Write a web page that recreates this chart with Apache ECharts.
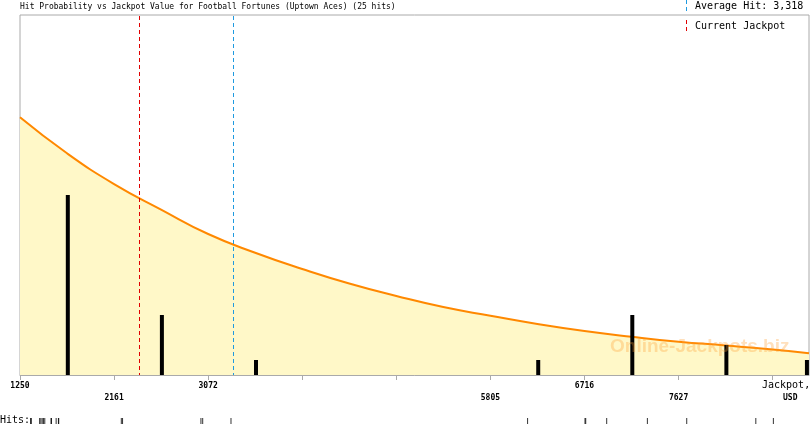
<!DOCTYPE html>
<html>
<head>
<meta charset="utf-8">
<script src="https://cdn.jsdelivr.net/npm/echarts@6/dist/echarts.min.js"></script>
<style>html,body{margin:0;padding:0;background:#fff}#c{width:810px;height:425px}</style>
</head>
<body>
<div id="c"></div>
<script>
// ---- data ----
const titleText = 'Hit Probability vs Jackpot Value for Football Fortunes (Uptown Aces) (25 hits)';
const xTicks = [1250, 2161, 3072, 3983, 4894, 5805, 6716, 7627, 8538];
const xTickLabels = ['1250', '2161', '3072', '', '', '5805', '6716', '7627', ''];
const xTickRows = [1, 2, 1, 0, 0, 2, 1, 2, 0];
const binCenters = [1713, 2624, 3535, 6268, 7179, 8090, 8870];
const hitCounts = [12, 4, 1, 1, 4, 2, 1];
const curveX = [1250, 1705, 2161, 2616, 3072, 3527, 3983, 4438, 4894, 5349, 5805, 6260, 6716, 7171, 7627, 8082, 8538, 8890];
const curveY = [17.18, 14.78, 12.73, 11.03, 9.4, 8.15, 7.07, 6.1, 5.27, 4.53, 3.95, 3.4, 2.93, 2.55, 2.22, 1.97, 1.7, 1.45];
const hitValues = [1352, 1360, 1440, 1452, 1465, 1478, 1490, 1550, 1555, 1600, 1622, 1625,
                   2231, 2243, 3002, 3019, 3293, 6165, 6721, 6728, 6931, 7325, 7706, 8375, 8545];
const currentJackpot = 2408;
const averageHit = 3318;
const averageLabel = 'Average Hit: 3,318';
const currentLabel = 'Current Jackpot';
const xMin = 1250, xMax = 8890, yMax = 24;
const redColor = '#e00000', blueColor = '#1e9ae0';

const chart = echarts.init(document.getElementById('c'), null, {renderer: 'canvas'});
const mono = 'DejaVu Sans Mono';

function vLineSeries(value, color) {
  return {
    type: 'custom', xAxisIndex: 0, yAxisIndex: 0, z: 5, silent: true,
    data: [[value]],
    renderItem: function (params, api) {
      const p0 = api.coord([api.value(0), 0]);
      const p1 = api.coord([api.value(0), yMax]);
      const x = Math.floor(p0[0]) + 0.5;
      return {
        type: 'line',
        shape: {x1: x, y1: p1[1] + 1, x2: x, y2: p0[1]},
        style: {stroke: color, lineWidth: 1, lineDash: [4, 3]}
      };
    }
  };
}

const option = {
  animation: false,
  backgroundColor: '#fff',
  grid: [
    {left: 20, right: 1, top: 15, bottom: 50, show: true, borderColor: '#aaaaaa', borderWidth: 1, backgroundColor: 'transparent'},
    {left: 20, right: 1, top: 417, height: 9}
  ],
  xAxis: [
    {
      type: 'value', gridIndex: 0, min: xMin, max: xMax,
      splitLine: {show: false},
      axisLine: {show: true, lineStyle: {color: '#aaaaaa', width: 1}},
      axisTick: {show: true, customValues: xTicks, length: 5, lineStyle: {color: '#aaaaaa'}},
      axisLabel: {
        show: true, customValues: xTicks, margin: 5,
        formatter: function (v) {
          const i = xTicks.indexOf(v);
          if (i < 0 || !xTickLabels[i]) return '';
          return xTickRows[i] === 2 ? '{e|}\n{t|' + xTickLabels[i] + '}' : '{t|' + xTickLabels[i] + '}\n{e|}';
        },
        rich: {
          t: {fontFamily: mono, fontSize: 8, fontWeight: 'bold', color: '#000', lineHeight: 12},
          e: {fontFamily: mono, fontSize: 8, lineHeight: 12}
        }
      }
    },
    {type: 'value', gridIndex: 1, min: xMin, max: xMax, show: false}
  ],
  yAxis: [
    {type: 'value', gridIndex: 0, min: 0, max: yMax, show: false},
    {type: 'value', gridIndex: 1, min: 0, max: 1, show: false}
  ],
  series: [
    {
      type: 'line', xAxisIndex: 0, yAxisIndex: 0, z: 2,
      data: curveX.map((x, i) => [x, curveY[i]]),
      smooth: true, symbol: 'none',
      lineStyle: {color: '#ff8800', width: 2},
      areaStyle: {color: '#fff8c8', opacity: 1}
    },
    {
      type: 'bar', xAxisIndex: 0, yAxisIndex: 0, z: 4,
      data: binCenters.map((x, i) => [x, hitCounts[i]]),
      barWidth: 4, itemStyle: {color: '#000'}
    },
    vLineSeries(currentJackpot, redColor),
    vLineSeries(averageHit, blueColor),
    {
      type: 'scatter', xAxisIndex: 1, yAxisIndex: 1,
      data: hitValues.map(v => [v, 0.5]),
      symbol: 'rect', symbolSize: [1, 6], itemStyle: {color: '#000'}
    }
  ],
  graphic: [
    {type: 'text', left: 20, top: 3, style: {text: titleText, font: '8px ' + mono, fill: '#000'}},
    {type: 'line', shape: {x1: 686.5, y1: 0, x2: 686.5, y2: 11}, style: {stroke: blueColor, lineWidth: 1, lineDash: [4, 3]}},
    {type: 'line', shape: {x1: 686.5, y1: 20, x2: 686.5, y2: 33}, style: {stroke: redColor, lineWidth: 1, lineDash: [4, 3]}},
    {type: 'text', left: 695, top: 1, style: {text: averageLabel, font: '10px ' + mono, fill: '#000'}},
    {type: 'text', left: 695, top: 21, style: {text: currentLabel, font: '10px ' + mono, fill: '#000'}},
    {type: 'text', left: 762, top: 380, style: {text: 'Jackpot,', font: '10px ' + mono, fill: '#000'}},
    {type: 'text', left: 783, top: 394, style: {text: 'USD', font: 'bold 8px ' + mono, fill: '#000'}},
    {type: 'text', left: 0, top: 415, style: {text: 'Hits:', font: '10px ' + mono, fill: '#000'}},
    {type: 'text', left: 610, top: 337, z: 10, style: {text: 'Online-Jackpots.biz', font: 'bold 19px "Liberation Sans"', fill: 'rgba(255,160,50,0.32)'}}
  ]
};
chart.setOption(option);
</script>
</body>
</html>
